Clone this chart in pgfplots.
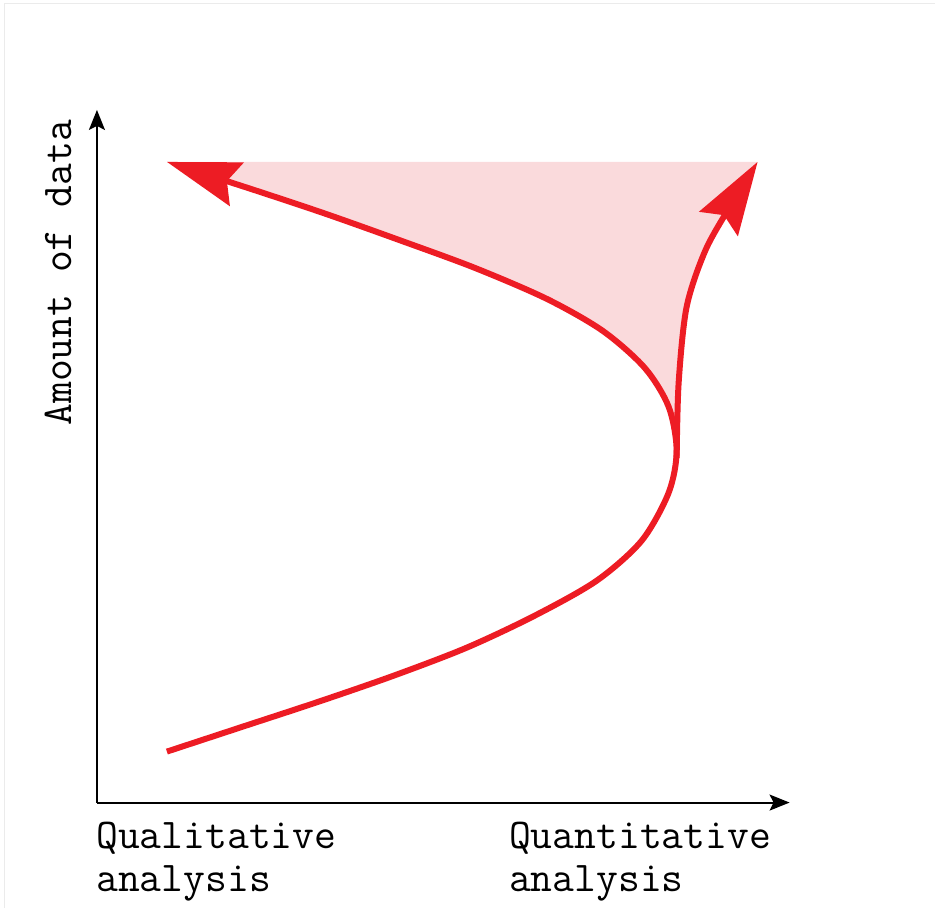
\documentclass[border=0pt]{standalone}
\usepackage{pgfplots}
\pgfplotsset{compat=1.18}
\usetikzlibrary{arrows.meta}
\usepackage{fontspec}
\definecolor{cred}{RGB}{237,28,36}
\definecolor{cfill}{RGB}{250,218,220}
\begin{document}
\begin{tikzpicture}
\begin{axis}[
 scale only axis, width=346.5pt, height=346.5pt,
 xmin=0, xmax=693, ymin=0, ymax=693,
 axis lines=left, ticks=none, clip=false,
 axis line style={line width=1pt, -{Stealth[length=10pt,width=8pt,inset=2pt]}},
]
\path (axis cs:-97,-105) rectangle (axis cs:838,803);
\draw[black!8, line width=0.5pt] (axis cs:-92,-105) -- (axis cs:-92,799) -- (axis cs:838,799);
% shaded region between the two branches
\addplot[draw=none, fill=cfill] coordinates {
 (579,365) (578,374) (572,396) (562,416) (548,435) (530,453) (506,472) (480,489) (450,504)
 (414,520) (378,535) (340,550) (302,563) (265,577) (229,589) (193,601) (157,613) (114,627) (70,641)
 (661,641) (635,599) (609,553) (598,525) (590,496) (585,460) (582,420) (581,380) (580,365)
};
% main curve
\addplot[cred, line width=3pt, smooth, -{Stealth[length=36.5pt,width=22.6pt,inset=5pt]}] coordinates {
 (70,51) (146,76) (222,101) (297,127) (370,155) (438,187) (500,222) (545,262) (572,310)
 (580,352) (572,396) (548,435) (506,472) (450,504) (378,535) (302,563) (229,589) (157,613) (70,641)
};
% right branch
\addplot[cred, line width=3pt, smooth, -{Stealth[length=36.5pt,width=22.6pt,inset=5pt]}] coordinates {
 (580,345) (582,420) (590,496) (609,553) (635,599) (661,641)
};
\node[font=\ttfamily\fontsize{21.2}{24}\selectfont, rotate=90, anchor=base] at (axis cs:-25,530) {Amount of data};
\node[font=\ttfamily\fontsize{21.2}{24}\selectfont, anchor=base west, inner sep=0pt] at (axis cs:-1,-46) {Qualitative};
\node[font=\ttfamily\fontsize{21.2}{24}\selectfont, anchor=base west, inner sep=0pt] at (axis cs:-1,-89) {analysis};
\node[font=\ttfamily\fontsize{21.2}{24}\selectfont, anchor=base west, inner sep=0pt] at (axis cs:412,-46) {Quantitative};
\node[font=\ttfamily\fontsize{21.2}{24}\selectfont, anchor=base west, inner sep=0pt] at (axis cs:412,-89) {analysis};
\end{axis}
\end{tikzpicture}
\end{document}
